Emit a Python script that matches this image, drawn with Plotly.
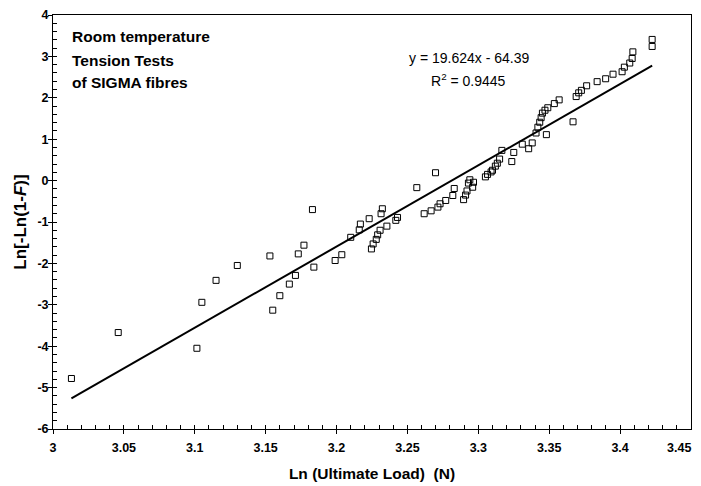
import numpy as np
import plotly.graph_objects as go

# Weibull plot data: Ln(ultimate load) vs Ln[-Ln(1-F)]
ln_load = [
    3.013, 3.046, 3.1015, 3.105, 3.115, 3.130, 3.153, 3.155, 3.160, 3.1667,
    3.171, 3.173, 3.177, 3.183, 3.184, 3.199, 3.2037, 3.210, 3.216, 3.2168,
    3.223, 3.2246, 3.2258, 3.228, 3.229, 3.2307, 3.2314, 3.2323, 3.2355, 3.2418,
    3.243, 3.2566, 3.2618, 3.2667, 3.2698, 3.2715, 3.273, 3.277, 3.282, 3.283,
    3.2896, 3.291, 3.292, 3.293, 3.294, 3.296, 3.2966, 3.305, 3.3065, 3.309,
    3.310, 3.312, 3.3134, 3.315, 3.3166, 3.3236, 3.325, 3.331, 3.3355, 3.338,
    3.3407, 3.342, 3.3433, 3.3443, 3.3452, 3.347, 3.348, 3.349, 3.3536, 3.357,
    3.3668, 3.369, 3.3708, 3.3727, 3.3764, 3.3838, 3.3898, 3.395, 3.4014, 3.403,
    3.4068, 3.4085, 3.409, 3.4226, 3.4226,
]
ln_ln = [
    -4.78, -3.67, -4.05, -2.94, -2.41, -2.05, -1.82, -3.13, -2.78, -2.50,
    -2.29, -1.77, -1.56, -0.70, -2.09, -1.93, -1.79, -1.37, -1.19, -1.05,
    -0.92, -1.65, -1.53, -1.42, -1.31, -1.20, -0.80, -0.68, -1.10, -0.96,
    -0.89, -0.17, -0.80, -0.73, 0.19, -0.64, -0.56, -0.48, -0.36, -0.19,
    -0.46, -0.35, -0.25, -0.06, 0.02, -0.16, -0.04, 0.09, 0.15, 0.21,
    0.25, 0.35, 0.42, 0.52, 0.73, 0.46, 0.68, 0.88, 0.77, 0.91,
    1.15, 1.29, 1.41, 1.52, 1.63, 1.70, 1.11, 1.76, 1.86, 1.95,
    1.42, 2.03, 2.12, 2.18, 2.29, 2.39, 2.46, 2.57, 2.63, 2.74,
    2.84, 2.95, 3.11, 3.24, 3.41,
]

# linear trendline as reported on the chart
slope = 19.624
intercept = -64.39
r2 = 0.9445

# tick labels (hyphen minus, like the original)
x_ticks = [3.0, 3.05, 3.1, 3.15, 3.2, 3.25, 3.3, 3.35, 3.4, 3.45]
x_ticktext = ["3", "3.05", "3.1", "3.15", "3.2", "3.25", "3.3", "3.35", "3.4", "3.45"]
y_ticks = [-6, -5, -4, -3, -2, -1, 0, 1, 2, 3, 4]
y_ticktext = ["-6", "-5", "-4", "-3", "-2", "-1", "0", "1", "2", "3", "4"]

# small inner tick marks every 0.01 on x and every 0.2 on y
x_minor = np.round(np.arange(3.0, 3.4501, 0.01), 3)
y_minor = np.round(np.arange(-6.0, 4.001, 0.2), 2)

x_line = np.array([min(ln_load), max(ln_load)])
y_line = slope * x_line + intercept

FONT = "Liberation Sans, Arial, sans-serif"
TICKFONT = dict(size=12.5, family=FONT, weight="bold")

fig = go.Figure()
fig.add_trace(go.Scatter(
    x=x_line, y=y_line, mode="lines",
    line=dict(color="black", width=2),
    showlegend=False, hoverinfo="skip",
))
fig.add_trace(go.Scatter(
    x=ln_load, y=ln_ln, mode="markers",
    marker=dict(symbol="square-open", size=6, color="black", line=dict(width=1)),
    showlegend=False,
))

# invisible trace on the overlay axes that carry the inner tick marks
fig.add_trace(go.Scatter(x=[3.0], y=[-6], xaxis="x2", yaxis="y2",
                         mode="markers", marker=dict(opacity=0),
                         showlegend=False, hoverinfo="skip"))

# page body has an 8px margin, so margins are shifted by 8px
fig.update_layout(
    width=701, height=486,
    margin=dict(l=45, r=18, t=7, b=65),
    paper_bgcolor="white", plot_bgcolor="white",
    font=dict(family=FONT, color="black"),
    xaxis=dict(
        range=[3.0, 3.45], tickmode="array",
        tickvals=x_ticks[:-1], ticktext=x_ticktext[:-1],
        showgrid=False, zeroline=False, automargin=False,
        showline=True, linecolor="black", linewidth=1, mirror=True,
        ticks="outside", ticklen=4, tickcolor="black",
        ticklabelstandoff=3,
        tickfont=TICKFONT,
        title=dict(text="Ln (Ultimate Load) &nbsp;(N)",
                   font=dict(size=15.5, family=FONT, weight="bold"), standoff=14),
    ),
    yaxis=dict(
        range=[-6, 4], tickmode="array", tickvals=y_ticks, ticktext=y_ticktext,
        showgrid=False, zeroline=False, automargin=False,
        showline=True, linecolor="black", linewidth=1, mirror=True,
        ticks="outside", ticklen=4, tickcolor="black",
        ticklabelstandoff=-3,
        tickfont=TICKFONT,
        title=dict(text="Ln[-Ln(1-<i>F</i>)]",
                   font=dict(size=17, family=FONT, weight="bold"), standoff=6),
    ),
    xaxis2=dict(
        overlaying="x", matches="x", side="bottom", anchor="y2",
        tickmode="array", tickvals=x_ticks + list(x_minor), ticks="inside",
        ticklen=4, tickcolor="black",
        showticklabels=False, showgrid=False, zeroline=False, showline=False,
    ),
    yaxis2=dict(
        overlaying="y", matches="y", side="left", anchor="x2",
        tickmode="array", tickvals=y_minor, ticks="inside", ticklen=4, tickcolor="black",
        showticklabels=False, showgrid=False, zeroline=False, showline=False,
    ),
)

# last x tick label sits on the right edge; keep it inside the page
fig.add_annotation(
    text=x_ticktext[-1], x=x_ticks[-1], y=0, xref="x", yref="paper",
    xanchor="right", yanchor="top", xshift=2, yshift=-10,
    showarrow=False, font=TICKFONT,
)

label_lines = ["Room temperature", "Tension Tests", "of SIGMA fibres"]
label_y = [0.947, 0.891, 0.838]
for line, ly in zip(label_lines, label_y):
    fig.add_annotation(
        text=line, xref="paper", yref="paper",
        x=0.026, y=ly, xanchor="left", yanchor="middle",
        showarrow=False, font=dict(size=15.5, family=FONT, weight="bold"),
    )

fig.add_annotation(
    text=f"y = {slope}x - {abs(intercept)}", xref="paper", yref="paper",
    x=0.652, y=0.896, xanchor="center", yanchor="middle",
    showarrow=False, font=dict(size=14, family=FONT),
)
fig.add_annotation(
    text=f"R<sup>2</sup> = {r2}", xref="paper", yref="paper",
    x=0.652, y=0.843, xanchor="center", yanchor="middle",
    showarrow=False, font=dict(size=14, family=FONT),
)

fig.write_html("out.html")
